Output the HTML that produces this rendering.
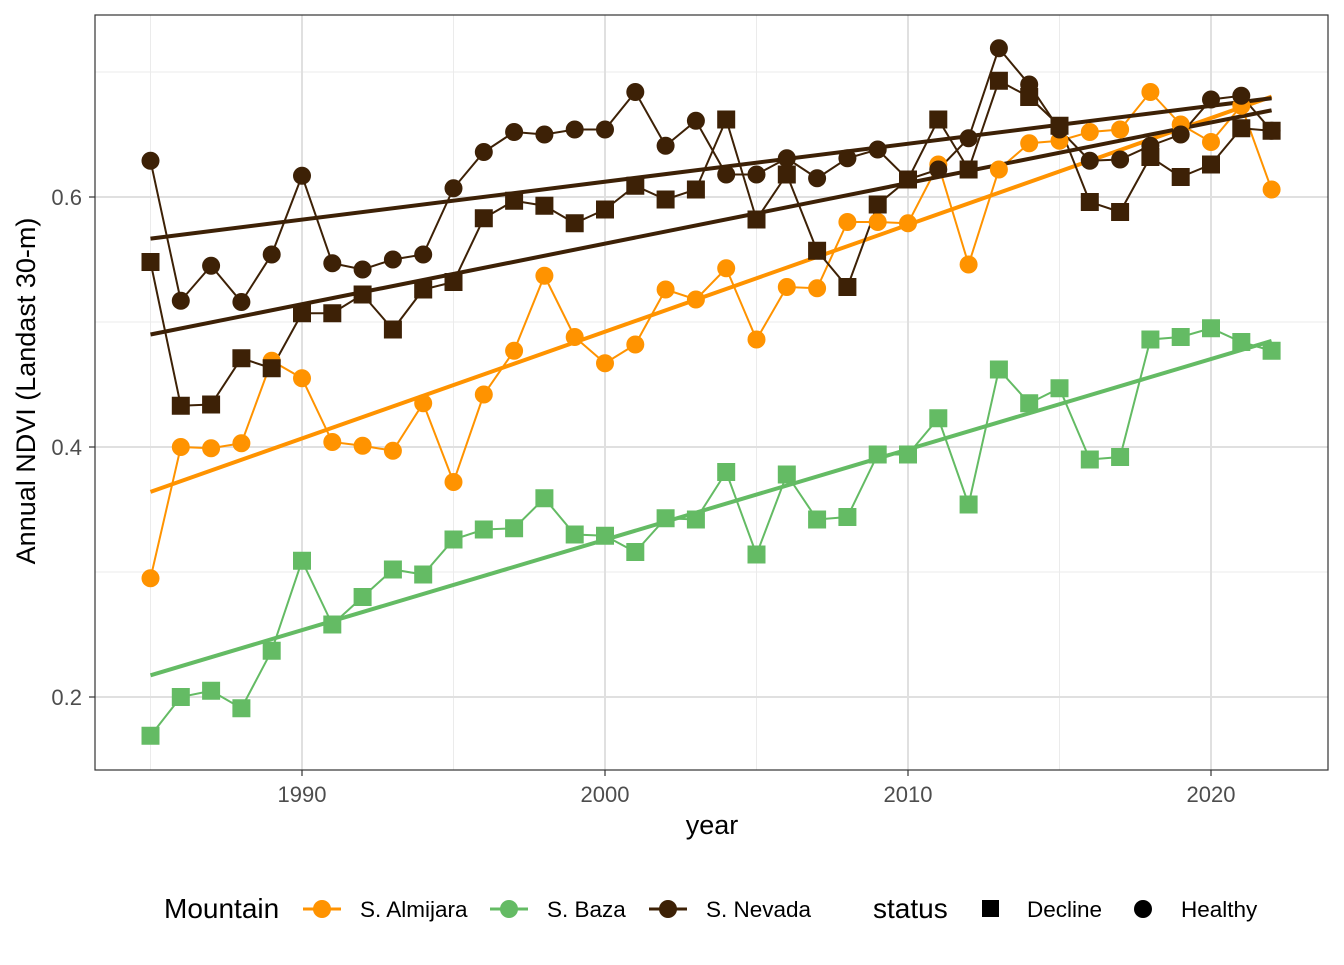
<!DOCTYPE html>
<html><head><meta charset="utf-8"><style>
html,body{margin:0;padding:0;background:#fff;}
svg text{font-family:"Liberation Sans",Arial,sans-serif;}
</style></head><body>
<svg id="chart" width="1344" height="960" viewBox="0 0 1344 960" xmlns="http://www.w3.org/2000/svg">
<g id="grid"></g>
<g id="marks"></g>
<rect x="95" y="15" width="1233" height="755" fill="none" stroke="#333" stroke-width="1.2"/>
<g id="axes"></g>
<text x="712" y="834" font-size="27" text-anchor="middle" fill="#000">year</text>
<text transform="translate(35,391) rotate(-90)" font-size="27" text-anchor="middle" fill="#000">Annual NDVI (Landast 30-m)</text>
<g id="legend"></g>
</svg>
<script>
const years = [];
for (let y = 1985; y <= 2022; y++) years.push(y);
const almijara = [0.295,0.400,0.399,0.403,0.469,0.455,0.404,0.401,0.397,0.435,0.372,0.442,0.477,0.537,0.488,0.467,0.482,0.526,0.518,0.543,0.486,0.528,0.527,0.580,0.580,0.579,0.626,0.546,0.622,0.643,0.645,0.652,0.654,0.684,0.658,0.644,0.673,0.606];
const baza = [0.169,0.200,0.205,0.191,0.237,0.309,0.258,0.280,0.302,0.298,0.326,0.334,0.335,0.359,0.330,0.329,0.316,0.343,0.342,0.380,0.314,0.378,0.342,0.344,0.394,0.394,0.423,0.354,0.462,0.435,0.447,0.390,0.392,0.486,0.488,0.495,0.484,0.477];
const nevadaHealthy = [0.629,0.517,0.545,0.516,0.554,0.617,0.547,0.542,0.550,0.554,0.607,0.636,0.652,0.650,0.654,0.654,0.684,0.641,0.661,0.618,0.618,0.631,0.615,0.631,0.638,0.614,0.622,0.647,0.719,0.690,0.654,0.629,0.630,0.641,0.650,0.678,0.681,0.653];
const nevadaDecline = [0.548,0.433,0.434,0.471,0.463,0.507,0.507,0.522,0.494,0.526,0.532,0.583,0.597,0.593,0.579,0.590,0.609,0.598,0.606,0.662,0.582,0.618,0.557,0.528,0.594,0.614,0.662,0.622,0.693,0.680,0.657,0.596,0.588,0.632,0.616,0.626,0.655,0.653];
const xTicks = [1990,2000,2010,2020];
const yTicks = [0.2,0.4,0.6];
const xMinor = [1985,1995,2005,2015];
const yMinor = [0.3,0.5,0.7];

const NS='http://www.w3.org/2000/svg';
const X = v => 302 + (v-1990)*30.3;
const Y = v => 697 - (v-0.2)*1250;
const PL=95, PR=1328, PT=15, PB=770;
function mk(parent, tag, attrs){const e=document.createElementNS(NS,tag);for(const k in attrs)e.setAttribute(k,attrs[k]);parent.appendChild(e);return e;}
const grid=document.getElementById('grid'), marks=document.getElementById('marks'), axes=document.getElementById('axes'), legend=document.getElementById('legend');

xMinor.forEach(v=>{const l=mk(grid,'line',{x1:X(v),x2:X(v),y1:PT,y2:PB,stroke:'#ebebeb','stroke-width':1});

});
yMinor.forEach(v=>{const l=mk(grid,'line',{x1:PL,x2:PR,y1:Y(v),y2:Y(v),stroke:'#ebebeb','stroke-width':1});

});
xTicks.forEach(v=>{const l=mk(grid,'line',{x1:X(v),x2:X(v),y1:PT,y2:PB,stroke:'#e0e0e0','stroke-width':2});


const t=mk(axes,'line',{x1:X(v),x2:X(v),y1:PB,y2:PB+6,stroke:'#333','stroke-width':1.2});


const tx=mk(axes,'text',{x:X(v),y:PB+32,'font-size':22,fill:'#4d4d4d','text-anchor':'middle'});tx.textContent=v;

});
yTicks.forEach(v=>{const l=mk(grid,'line',{x1:PL,x2:PR,y1:Y(v),y2:Y(v),stroke:'#e0e0e0','stroke-width':2});


const t=mk(axes,'line',{x1:PL-6,x2:PL,y1:Y(v),y2:Y(v),stroke:'#333','stroke-width':1.2});


const tx=mk(axes,'text',{x:PL-13,y:Y(v)+8,'font-size':22,fill:'#4d4d4d','text-anchor':'end'});tx.textContent=v.toFixed(1);

});

function fit(vals){const n=vals.length;let sx=0,sy=0,sxx=0,sxy=0;years.forEach((x,i)=>{sx+=x;sy+=vals[i];sxx+=x*x;sxy+=x*vals[i];});const b=(n*sxy-sx*sy)/(n*sxx-sx*sx);return [b,(sy-b*sx)/n];}
function series(vals,color,shape,name){
  const d=vals.map((v,i)=>(i?'L':'M')+X(years[i])+' '+Y(v)).join(' ');
  const p=mk(marks,'path',{d:d,fill:'none',stroke:color,'stroke-width':2});
  
  
  const [b,a]=fit(vals);const x0=years[0],x1=years[years.length-1];
  const tl=mk(marks,'line',{x1:X(x0),y1:Y(a+b*x0),x2:X(x1),y2:Y(a+b*x1),stroke:color,'stroke-width':4});
  
  
  return ()=>vals.forEach((v,i)=>{let e;
    if(shape==='c') e=mk(marks,'circle',{cx:X(years[i]),cy:Y(v),r:9,fill:color});
    else e=mk(marks,'rect',{x:X(years[i])-9,y:Y(v)-9,width:18,height:18,fill:color});
    
    });
}
const pts=[series(almijara,'#ff9300','c','almijara'),series(baza,'#64bb64','s','baza'),series(nevadaHealthy,'#3d2106','c','nevada-healthy'),series(nevadaDecline,'#3d2106','s','nevada-decline')];
pts.forEach(f=>f());

// legend
const lt=mk(legend,'text',{x:164,y:918,'font-size':28,fill:'#000'});lt.textContent='Mountain';


[['S. Almijara','#ff9300',322],['S. Baza','#64bb64',509],['S. Nevada','#3d2106',668]].forEach(([n,c,x])=>{
  const g=mk(legend,'g',{});
  
  
  mk(g,'line',{x1:x-19,x2:x+19,y1:909,y2:909,stroke:c,'stroke-width':3});
  mk(g,'circle',{cx:x,cy:909,r:9,fill:c});
  const t=mk(g,'text',{x:x+38,y:917,'font-size':22.5,fill:'#000'});t.textContent=n;
});
const st=mk(legend,'text',{x:873,y:918,'font-size':28,fill:'#000'});st.textContent='status';


const g1=mk(legend,'g',{});


mk(g1,'rect',{x:982,y:900,width:17,height:17,fill:'#000'});
mk(g1,'text',{x:1027,y:917,'font-size':22.5,fill:'#000'}).textContent='Decline';
const g2=mk(legend,'g',{});


mk(g2,'circle',{cx:1143,cy:909,r:9,fill:'#000'});
mk(g2,'text',{x:1181,y:917,'font-size':22.5,fill:'#000'}).textContent='Healthy';
</script>
</body></html>
